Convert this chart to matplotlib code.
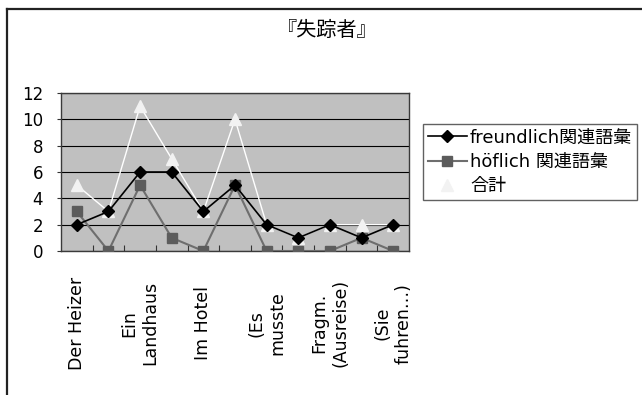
import matplotlib
matplotlib.use('Agg')
import matplotlib.pyplot as plt
from matplotlib.lines import Line2D
import numpy as np

plt.rcParams['font.family'] = ['DejaVu Sans', 'Noto Sans CJK JP']

# chapters (only every other one gets a label on the axis)
chapters = ['Der Heizer', '', 'Ein\nLandhaus', '', 'Im Hotel', '',
            '(Es\nmusste', '', 'Fragm.\n(Ausreise)', '', '(Sie\nfuhren…)']
freundlich = [2, 3, 6, 6, 3, 5, 2, 1, 2, 1, 2]
hoeflich = [3, 0, 5, 1, 0, 5, 0, 0, 0, 1, 0]
gesamt = [5, 3, 11, 7, 3, 10, 2, 1, 2, 2, 2]
y_ticks = [0, 2, 4, 6, 8, 10, 12]

fig = plt.figure(figsize=(6.42, 3.95), dpi=100)
ax = fig.add_axes([61 / 642, 1 - 251 / 395, 348 / 642, 158 / 395])
ax.set_facecolor('#c0c0c0')

x = np.arange(len(chapters))

l1, = ax.plot(x, freundlich, color='black', lw=1.2, marker='D', ms=6,
              mfc='black', mec='black', zorder=5)
l2, = ax.plot(x, hoeflich, color='#6e6e6e', lw=1.5, marker='s', ms=7.5,
              mfc='#5c5c5c', mec='#5c5c5c', zorder=4)
l3, = ax.plot(x, gesamt, color='white', lw=1.0, marker='^', ms=9,
              mfc='#f2f2f2', mec='#f2f2f2', zorder=3)

ax.set_xlim(-0.5, len(chapters) - 0.5)
ax.set_ylim(0, 12)
ax.set_yticks(y_ticks)
ax.set_yticklabels([str(v) for v in y_ticks], fontsize=12)
ax.grid(axis='y', color='black', lw=0.8, zorder=1)
ax.set_axisbelow(True)

ax.set_xticks(x)
ax.set_xticklabels(chapters, rotation=90, fontsize=12.5,
                   va='center', ha='center', multialignment='center')
ax.tick_params(axis='x', which='major', length=0, pad=52)
ax.set_xticks(x[:-1] + 0.5, minor=True)
ax.tick_params(axis='x', which='minor', direction='in', length=4,
               color='#333333', width=0.8)
ax.tick_params(axis='y', length=3, color='#333333', pad=10)

for s in ax.spines.values():
    s.set_color('#3a3a3a')
    s.set_linewidth(1.0)

fig.text(0.51, 1 - 30 / 395, '『失踪者』', fontsize=14.5,
         ha='center', va='center')

leg = fig.legend([l1, l2, l3], ['freundlich関連語彙', 'höflich 関連語彙', '合計'],
                 loc='upper left', bbox_to_anchor=(423 / 642, 1 - 124 / 395),
                 fontsize=13, frameon=True, fancybox=False,
                 handlelength=2.2, handletextpad=0.15, borderpad=0.25,
                 labelspacing=0.35, borderaxespad=0)
leg.get_frame().set_edgecolor('#3a3a3a')
leg.get_frame().set_linewidth(1.0)

# outer chart border: only the left and top edges fall inside the image
bx, by = 7 / 642, 1 - 9 / 395
fig.add_artist(Line2D([bx, bx], [0, by], transform=fig.transFigure,
                      color='#222222', lw=1.6))
fig.add_artist(Line2D([bx, 1], [by, by], transform=fig.transFigure,
                      color='#222222', lw=1.6))

fig.savefig('out.png', dpi=100)
